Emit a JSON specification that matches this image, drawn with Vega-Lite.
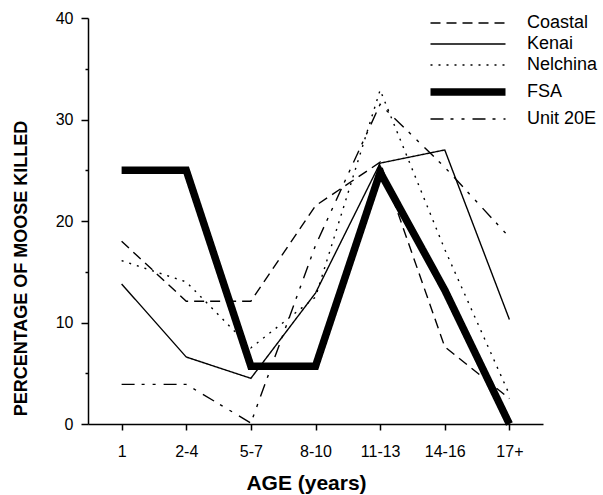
{
  "$schema": "https://vega.github.io/schema/vega-lite/v6.json",
  "width": 455,
  "height": 406,
  "autosize": {"type": "none"},
  "padding": {"left": 88, "top": 18, "right": 60, "bottom": 71},
  "background": "white",
  "config": {
    "view": {"stroke": null},
    "font": "Liberation Sans",
    "axis": {"grid": false, "domainColor": "black", "tickColor": "black", "labelColor": "black", "titleColor": "black", "domainWidth": 1.5, "tickWidth": 1.5}
  },
  "data": {
    "values": [
      {"age": "1", "region": "Coastal", "pct": 18.0},
      {"age": "2-4", "region": "Coastal", "pct": 12.1},
      {"age": "5-7", "region": "Coastal", "pct": 12.1},
      {"age": "8-10", "region": "Coastal", "pct": 21.5},
      {"age": "11-13", "region": "Coastal", "pct": 25.8},
      {"age": "14-16", "region": "Coastal", "pct": 7.6},
      {"age": "17+", "region": "Coastal", "pct": 2.5},
      {"age": "1", "region": "Kenai", "pct": 13.8},
      {"age": "2-4", "region": "Kenai", "pct": 6.6},
      {"age": "5-7", "region": "Kenai", "pct": 4.5},
      {"age": "8-10", "region": "Kenai", "pct": 12.9},
      {"age": "11-13", "region": "Kenai", "pct": 25.7},
      {"age": "14-16", "region": "Kenai", "pct": 27.0},
      {"age": "17+", "region": "Kenai", "pct": 10.3},
      {"age": "1", "region": "Nelchina", "pct": 16.1},
      {"age": "2-4", "region": "Nelchina", "pct": 14.0},
      {"age": "5-7", "region": "Nelchina", "pct": 7.5},
      {"age": "8-10", "region": "Nelchina", "pct": 12.5},
      {"age": "11-13", "region": "Nelchina", "pct": 32.9},
      {"age": "14-16", "region": "Nelchina", "pct": 17.2},
      {"age": "17+", "region": "Nelchina", "pct": 2.9},
      {"age": "1", "region": "FSA", "pct": 25.0},
      {"age": "2-4", "region": "FSA", "pct": 25.0},
      {"age": "5-7", "region": "FSA", "pct": 5.7},
      {"age": "8-10", "region": "FSA", "pct": 5.7},
      {"age": "11-13", "region": "FSA", "pct": 24.8},
      {"age": "14-16", "region": "FSA", "pct": 13.2},
      {"age": "17+", "region": "FSA", "pct": 0.0},
      {"age": "1", "region": "Unit 20E", "pct": 3.9},
      {"age": "2-4", "region": "Unit 20E", "pct": 3.9},
      {"age": "5-7", "region": "Unit 20E", "pct": 0.1},
      {"age": "8-10", "region": "Unit 20E", "pct": 17.6},
      {"age": "11-13", "region": "Unit 20E", "pct": 31.5},
      {"age": "14-16", "region": "Unit 20E", "pct": 25.3},
      {"age": "17+", "region": "Unit 20E", "pct": 18.4}
    ]
  },
  "mark": {"type": "line", "color": "black", "strokeJoin": "miter", "clip": false},
  "encoding": {
    "x": {
      "field": "age", "type": "ordinal",
      "sort": ["1", "2-4", "5-7", "8-10", "11-13", "14-16", "17+"],
      "scale": {"type": "point", "padding": 0.52},
      "axis": {"title": "AGE (years)", "labelAngle": 0, "labelFontSize": 16, "labelPadding": 13, "tickSize": 6, "titleFontSize": 21, "titleFontWeight": "bold", "titlePadding": 13, "titleX": 218}
    },
    "y": {
      "field": "pct", "type": "quantitative",
      "scale": {"domain": [0, 40], "nice": false},
      "axis": {
        "title": "PERCENTAGE OF MOOSE KILLED",
        "values": [0, 5, 10, 15, 20, 25, 30, 35, 40],
        "labelExpr": "datum.value % 10 === 0 ? datum.label : ''",
        "tickSize": {"expr": "datum.value % 10 === 0 ? 7 : 3"},
        "labelFontSize": 16, "labelPadding": 8,
        "titleFontSize": 18, "titleFontWeight": "bold",
        "titleX": -58, "titleY": 250, "titleAngle": -90, "titleBaseline": "bottom"
      }
    },
    "detail": {"field": "region"},
    "strokeDash": {
      "field": "region", "type": "nominal",
      "scale": {"domain": ["Coastal", "Kenai", "Nelchina", "FSA", "Unit 20E"],
                "range": [[10, 6], [1, 0], [2, 6], [1, 0], [13, 7, 3, 8, 3, 8]]},
      "legend": {"title": null, "orient": "none", "legendX": 371, "legendY": -4, "symbolType": "M-18.75,0H18.75", "symbolSize": 16, "labelFontSize": 18, "labelOffset": 50, "rowPadding": 3, "symbolStrokeColor": "black"}
    },
    "strokeWidth": {
      "field": "region", "type": "nominal",
      "scale": {"type": "ordinal", "domain": ["Coastal", "Kenai", "Nelchina", "FSA", "Unit 20E"],
                "range": [1.4, 1.4, 1.4, 7.5, 1.4]},
      "legend": {"title": null, "orient": "none", "legendX": 371, "legendY": -4, "symbolType": "M-18.75,0H18.75", "symbolSize": 16, "labelFontSize": 18, "labelOffset": 50, "rowPadding": 3, "symbolStrokeColor": "black"}
    }
  }
}
